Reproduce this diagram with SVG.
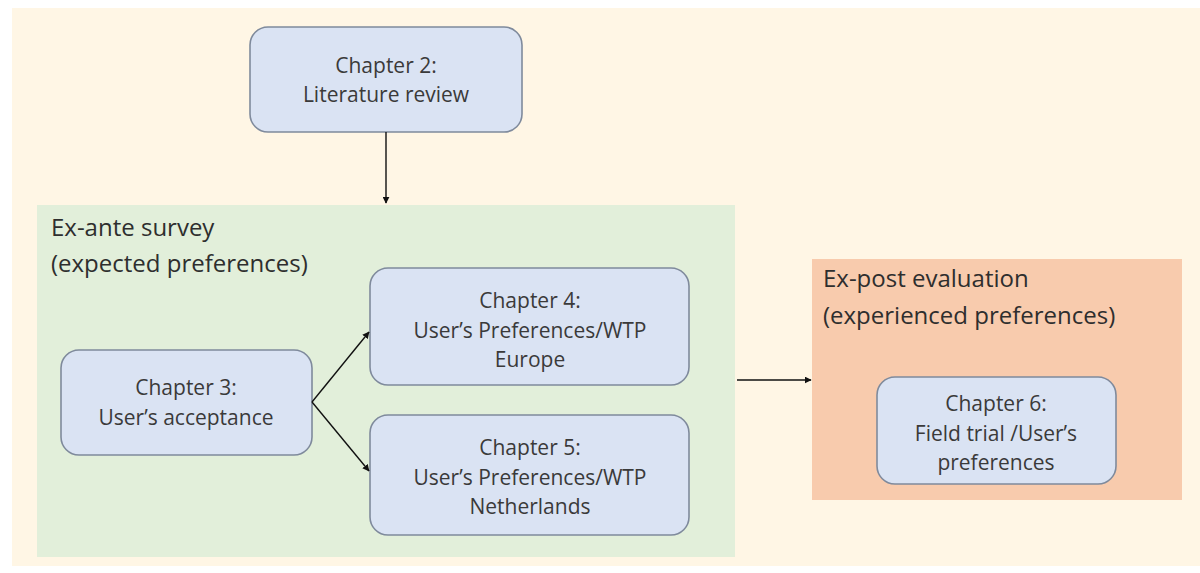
<svg xmlns="http://www.w3.org/2000/svg" width="1200" height="573" viewBox="0 0 1200 573">
<defs>
<marker id="ah" viewBox="0 0 10 10" refX="9" refY="5" markerWidth="7" markerHeight="7" markerUnits="userSpaceOnUse" orient="auto">
<path d="M0,0 L10,5 L0,10 z" fill="#111"/>
</marker>
<style>
.node rect{fill:#DAE3F3;stroke:#7F8A9C;stroke-width:1.6}
.node text{font-family:"Open Sans","Liberation Sans",sans-serif;font-size:21px;fill:#3A3A3A;text-anchor:middle}
.title{font-family:"Open Sans","Liberation Sans",sans-serif;font-size:24px;fill:#2E2E2E}
.conn line{stroke:#111;stroke-width:1.4;marker-end:url(#ah)}
</style>
</defs>
<rect width="1200" height="573" fill="#FFFFFF"/>
<rect x="12" y="8" width="1188" height="558" fill="#FFF6E5"/>
<g id="ex-ante">
<rect x="37" y="205" width="698" height="352" fill="#E2EFDA"/>
<text class="title" x="51" y="236">Ex-ante survey</text>
<text class="title" x="51" y="272">(expected preferences)</text>
</g>
<g id="ex-post">
<rect x="812" y="259" width="370" height="241" fill="#F8CBAD"/>
<text class="title" x="823" y="287">Ex-post evaluation</text>
<text class="title" x="823" y="324">(experienced preferences)</text>
</g>
<g id="ch2" class="node">
<rect x="250" y="27" width="272" height="105" rx="18"/>
<text x="386" y="73">Chapter 2:</text>
<text x="386" y="102">Literature review</text>
</g>
<g id="ch3" class="node">
<rect x="61" y="350" width="251" height="105" rx="18"/>
<text x="186" y="395">Chapter 3:</text>
<text x="186" y="425">User’s acceptance</text>
</g>
<g id="ch4" class="node">
<rect x="370" y="268" width="319" height="117" rx="18"/>
<text x="530" y="308">Chapter 4:</text>
<text x="530" y="338">User’s Preferences/WTP</text>
<text x="530" y="367">Europe</text>
</g>
<g id="ch5" class="node">
<rect x="370" y="415" width="319" height="120" rx="18"/>
<text x="530" y="455">Chapter 5:</text>
<text x="530" y="485">User’s Preferences/WTP</text>
<text x="530" y="514">Netherlands</text>
</g>
<g id="ch6" class="node">
<rect x="877" y="377" width="239" height="107" rx="18"/>
<text x="996" y="411">Chapter 6:</text>
<text x="996" y="441">Field trial /User’s</text>
<text x="996" y="470">preferences</text>
</g>
<g id="connectors" class="conn">
<line x1="386" y1="132" x2="386" y2="203"/>
<line x1="312" y1="402" x2="369" y2="332"/>
<line x1="312" y1="402" x2="369" y2="471"/>
<line x1="737" y1="380" x2="811" y2="380"/>
</g>
</svg>
